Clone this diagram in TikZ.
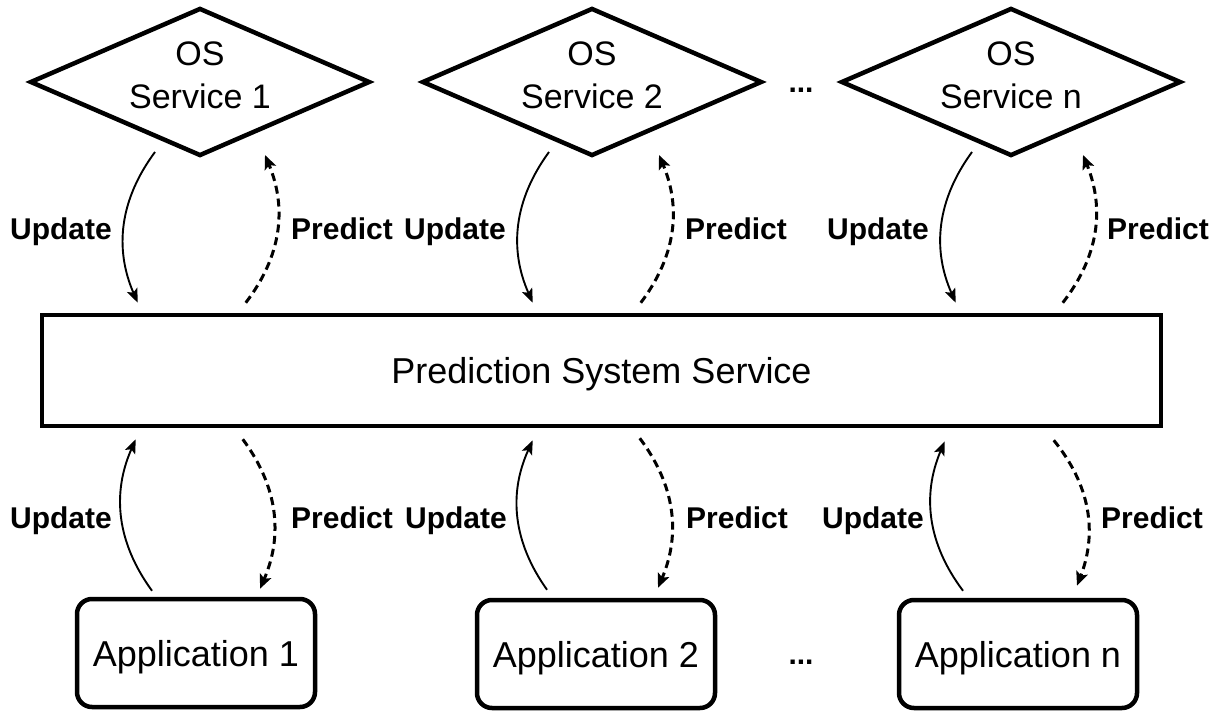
\documentclass[tikz,border=0pt]{standalone}
\usepackage{fontspec}
\setmainfont{Liberation Sans}
\usetikzlibrary{shapes.geometric,arrows.meta,calc}

\tikzset{
  service/.style={diamond, draw, line width=4.5pt, minimum width=340pt,
    minimum height=148pt, inner sep=0pt, line join=miter},
  servicetext/.style={align=center, inner sep=0pt, text depth=0pt,
    font=\fontsize{34}{43}\selectfont},
  hub/.style={rectangle, draw, line width=4.5pt, minimum width=1119pt,
    minimum height=111pt, inner sep=0pt, text depth=0pt,
    font=\fontsize{36}{43}\selectfont},
  appbox/.style={rectangle, rounded corners=15pt, draw, line width=4.5pt,
    minimum width=238pt, minimum height=108pt, inner sep=0pt, text depth=0pt,
    font=\fontsize{36}{43}\selectfont},
  flowlabel/.style={anchor=base, inner sep=0pt, font=\fontsize{30}{36}\selectfont\bfseries},
  upd/.style={line width=1.9pt, -{Stealth[length=14pt,width=11pt,inset=3pt]}},
  pred/.style={line width=3pt, dash pattern=on 8pt off 5pt,
    -{Stealth[length=14pt,width=12pt,inset=3pt]}},
}

\begin{document}
\begin{tikzpicture}[x=1pt, y=-1pt]
\useasboundingbox (0,0) rectangle (1220,711);

% OS services
\node[service] (d1) at (200,82) {};
\node[service] (d2) at (592,82) {};
\node[service] (d3) at (1011,82) {};
\node[servicetext] (t1) at (200,75) {OS\\Service 1};
\node[servicetext] (t2) at (592,75) {OS\\Service 2};
\node[servicetext] (t3) at (1011,75) {OS\\Service n};
\node[flowlabel] (dotstop) at (801,93) {...};

% central service
\node[hub] (psb) at (601.5,370.5) {Prediction System Service};

% applications
\node[appbox] (a1) at (196,653) {Application 1};
\node[appbox] (a2) at (596,654) {Application 2};
\node[appbox] (a3) at (1018,654) {Application n};
\node[flowlabel] (dotsbot) at (801,664) {...};

% service <-> hub
\draw[upd]  ($(d1.center)+(-45,70)$) to[bend right=30] ($(psb.north west)+(98,-10)$);
\draw[pred] ($(psb.north west)+(206,-10)$) to[bend right=30] ($(d1.center)+(65,73)$);
\draw[upd]  ($(d2.center)+(-43,70)$) to[bend right=30] ($(psb.north west)+(493,-10)$);
\draw[pred] ($(psb.north west)+(601,-10)$) to[bend right=30] ($(d2.center)+(67,73)$);
\draw[upd]  ($(d3.center)+(-39,70)$) to[bend right=30] ($(psb.north west)+(916,-10)$);
\draw[pred] ($(psb.north west)+(1023,-10)$) to[bend right=30] ($(d3.center)+(72,73)$);

% application <-> hub
\draw[upd]  ($(a1.north)+(-44,-6)$) to[bend left=30] ($(psb.south west)+(96,11)$);
\draw[pred] ($(psb.south west)+(203,11)$) to[bend left=30] ($(a1.north)+(64,-8)$);
\draw[upd]  ($(a2.north)+(-49,-8)$) to[bend left=30] ($(psb.south west)+(493,12)$);
\draw[pred] ($(psb.south west)+(600,10)$) to[bend left=30] ($(a2.north)+(62,-10)$);
\draw[upd]  ($(a3.north)+(-55,-7)$) to[bend left=30] ($(psb.south west)+(905,13)$);
\draw[pred] ($(psb.south west)+(1014,12)$) to[bend left=30] ($(a3.north)+(59,-12)$);

% labels
\node[flowlabel] (lu1) at (61,240) {Update};
\node[flowlabel] (lp1) at (342,240) {Predict};
\node[flowlabel] (lu2) at (455,240) {Update};
\node[flowlabel] (lp2) at (736,240) {Predict};
\node[flowlabel] (lu3) at (878,240) {Update};
\node[flowlabel] (lp3) at (1158,240) {Predict};

\node[flowlabel] (bu1) at (61,528) {Update};
\node[flowlabel] (bp1) at (342,528) {Predict};
\node[flowlabel] (bu2) at (456,528) {Update};
\node[flowlabel] (bp2) at (737,528) {Predict};
\node[flowlabel] (bu3) at (873,528) {Update};
\node[flowlabel] (bp3) at (1152,528) {Predict};
\end{tikzpicture}
\end{document}
